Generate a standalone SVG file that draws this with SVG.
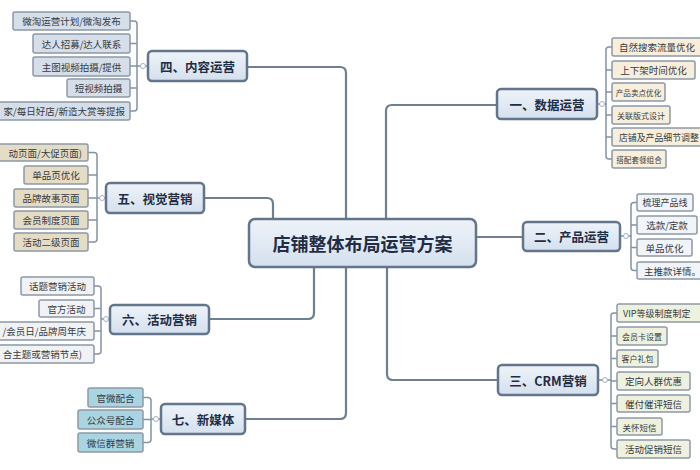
<svg xmlns="http://www.w3.org/2000/svg" width="700" height="470" viewBox="0 0 700 470">
<defs>
<linearGradient id="gNode" x1="0" y1="0" x2="0" y2="1">
<stop offset="0" stop-color="#eef3f9"/>
<stop offset="1" stop-color="#d4e0ee"/>
</linearGradient>
<style>
.main{fill:url(#gNode);stroke:#63758b;stroke-width:2.5}
.mt{font-family:"Noto Sans CJK SC","Liberation Sans",sans-serif;font-weight:bold;fill:#1f2d45;text-anchor:middle;dominant-baseline:central}
.leaf{stroke:#8d99a6;stroke-width:1.5}
.lt{font-family:"Noto Sans CJK SC","Liberation Sans",sans-serif;fill:#353a42;font-size:9.5px;dominant-baseline:central}
.c{text-anchor:middle}
.e{text-anchor:end}
.s{text-anchor:start}
.conn{fill:none;stroke:#6e7f92;stroke-width:2.2}
.br{fill:none;stroke:#8393a3;stroke-width:1.5}
.dot{fill:#fff;stroke:#a3b1bf;stroke-width:1}
.f4{fill:#d6dee9}.f5{fill:#e4dcc4}.f6{fill:#f1f2f3}.f7{fill:#a9d4e1}
.f1{fill:#f7efdb}.f2{fill:#f1f4f8}.f3{fill:#eef1dd}
</style>
</defs>
<rect width="700" height="470" fill="#ffffff"/>

<g id="connectors">
<path class="conn" d="M346 219 V73 Q346 67 340 67 H247"/>
<path class="conn" d="M386 219 V111 Q386 105 392 105 H497"/>
<path class="conn" d="M273 219 V204 Q273 198 267 198 H204"/>
<path class="conn" d="M476 237 H523"/>
<path class="conn" d="M314 267 V313 Q314 319 308 319 H209"/>
<path class="conn" d="M346 267 V413 Q346 419 340 419 H245"/>
<path class="conn" d="M387 267 V374 Q387 380 393 380 H498"/>
<path class="br" d="M130 21 H134 Q137 21 137 24 V108 Q137 111 134 111 H130 M137 43.5 H130 M137 66 H130 M137 88 H130 M137 66 H148"/>
<path class="br" d="M88 152.5 H94 Q97 152.5 97 155.5 V239 Q97 242 94 242 H88 M97 175 H88 M97 198 H88 M97 220 H88 M97 198 H106"/>
<path class="br" d="M94 286 H98 Q101 286 101 289 V351 Q101 354 98 354 H94 M101 308.5 H94 M101 331 H94 M101 319 H110"/>
<path class="br" d="M143 397.5 H148 Q151 397.5 151 400.5 V439.5 Q151 442.5 148 442.5 H143 M151 419.5 H143 M151 419 H161"/>
<path class="br" d="M612 47 H609 Q606 47 606 50 V156 Q606 159 609 159 H612 M606 70 H612 M606 92 H612 M606 115 H612 M606 137 H612 M606 104 H597"/>
<path class="br" d="M637 202.5 H634 Q631 202.5 631 205.5 V267.5 Q631 270.5 634 270.5 H637 M631 225 H637 M631 247.5 H637 M631 236 H620"/>
<path class="br" d="M617 313 H614 Q611 313 611 316 V446 Q611 449 614 449 H617 M611 336 H617 M611 358.5 H617 M611 381 H617 M611 403.5 H617 M611 426.5 H617 M611 380 H598"/>
<circle class="dot" cx="143" cy="66" r="2.5"/>
<circle class="dot" cx="102" cy="198" r="2.5"/>
<circle class="dot" cx="106" cy="319" r="2.5"/>
<circle class="dot" cx="156" cy="419" r="2.5"/>
<circle class="dot" cx="602" cy="104" r="2.5"/>
<circle class="dot" cx="626" cy="236" r="2.5"/>
<circle class="dot" cx="605" cy="380" r="2.5"/>
</g>

<g id="center">
<rect class="main" x="249" y="219" width="227" height="48" rx="6"/>
<text class="mt" x="362.5" y="243" font-size="18">店铺整体布局运营方案</text>
</g>

<g id="n4">
<rect class="main" x="148" y="51" width="99" height="30" rx="4"/>
<text class="mt" x="197.5" y="66" font-size="12.5">四、内容运营</text>
</g>
<g id="n4-leaves">
<rect class="leaf f4" x="13" y="12" width="117" height="18" rx="2"/>
<text class="lt c" x="71.5" y="21">微淘运营计划/微淘发布</text>
<rect class="leaf f4" x="33" y="34" width="97" height="19" rx="2"/>
<text class="lt c" x="81.5" y="43.5">达人招募/达人联系</text>
<rect class="leaf f4" x="33" y="57" width="97" height="19" rx="2"/>
<text class="lt c" x="81.5" y="66.5">主图视频拍摄/提供</text>
<rect class="leaf f4" x="67" y="79" width="63" height="18" rx="2"/>
<text class="lt c" x="98.5" y="88">短视频拍摄</text>
<rect class="leaf f4" x="-60" y="102" width="190" height="18" rx="2"/>
<text class="lt e" x="125" y="111">家/每日好店/新造大赏等提报</text>
</g>

<g id="n5">
<rect class="main" x="106" y="183" width="98" height="30" rx="4"/>
<text class="mt" x="155" y="198" font-size="12.5">五、视觉营销</text>
</g>
<g id="n5-leaves">
<rect class="leaf f5" x="-40" y="144" width="128" height="17" rx="2"/>
<text class="lt e" x="82" y="152.5">动页面/大促页面)</text>
<rect class="leaf f5" x="24" y="166" width="64" height="18" rx="2"/>
<text class="lt c" x="56" y="175">单品页优化</text>
<rect class="leaf f5" x="14" y="189" width="74" height="18" rx="2"/>
<text class="lt c" x="51" y="198">品牌故事页面</text>
<rect class="leaf f5" x="14" y="211" width="74" height="18" rx="2"/>
<text class="lt c" x="51" y="220">会员制度页面</text>
<rect class="leaf f5" x="14" y="233" width="74" height="18" rx="2"/>
<text class="lt c" x="51" y="242">活动二级页面</text>
</g>

<g id="n6">
<rect class="main" x="110" y="305" width="99" height="29" rx="4"/>
<text class="mt" x="159.5" y="319.5" font-size="12.5">六、活动营销</text>
</g>
<g id="n6-leaves">
<rect class="leaf f6" x="21" y="277" width="73" height="18" rx="2"/>
<text class="lt c" x="57.5" y="286">话题营销活动</text>
<rect class="leaf f6" x="39" y="300" width="55" height="17" rx="2"/>
<text class="lt c" x="66.5" y="308.5">官方活动</text>
<rect class="leaf f6" x="-40" y="322" width="134" height="18" rx="2"/>
<text class="lt e" x="86" y="331">/会员日/品牌周年庆</text>
<rect class="leaf f6" x="-40" y="345" width="134" height="18" rx="2"/>
<text class="lt e" x="82" y="354">合主题或营销节点)</text>
</g>

<g id="n7">
<rect class="main" x="161" y="404" width="84" height="30" rx="4"/>
<text class="mt" x="203" y="419" font-size="12.5">七、新媒体</text>
</g>
<g id="n7-leaves">
<rect class="leaf f7" x="88" y="388" width="55" height="19" rx="2"/>
<text class="lt c" x="115.5" y="397.5">官微配合</text>
<rect class="leaf f7" x="78" y="410" width="65" height="19" rx="2"/>
<text class="lt c" x="110.5" y="419.5">公众号配合</text>
<rect class="leaf f7" x="78" y="433" width="65" height="19" rx="2"/>
<text class="lt c" x="110.5" y="442.5">微信群营销</text>
</g>

<g id="n1">
<rect class="main" x="497" y="89" width="100" height="30" rx="4"/>
<text class="mt" x="547" y="104" font-size="12.5">一、数据运营</text>
</g>
<g id="n1-leaves">
<rect class="leaf f1" x="612" y="38" width="92" height="18" rx="2"/>
<text class="lt s" x="619" y="47">自然搜索流量优化</text>
<rect class="leaf f1" x="612" y="61" width="83" height="18" rx="2"/>
<text class="lt c" x="653.5" y="70">上下架时间优化</text>
<rect class="leaf f1" x="612" y="83" width="53" height="18" rx="2"/>
<text class="lt c" x="638.5" y="92" style="font-size:7.6px">产品卖点优化</text>
<rect class="leaf f1" x="612" y="106" width="58" height="18" rx="2"/>
<text class="lt c" x="641" y="115" style="font-size:8px">关联版式设计</text>
<rect class="leaf f1" x="612" y="128" width="100" height="18" rx="2"/>
<text class="lt s" x="619" y="137" style="font-size:8.9px">店铺及产品细节调整</text>
<rect class="leaf f1" x="612" y="150" width="54" height="18" rx="2"/>
<text class="lt c" x="639" y="159" style="font-size:7.6px">搭配套餐组合</text>
</g>

<g id="n2">
<rect class="main" x="523" y="222" width="97" height="29" rx="4"/>
<text class="mt" x="571.5" y="236.5" font-size="12.5">二、产品运营</text>
</g>
<g id="n2-leaves">
<rect class="leaf f2" x="637" y="194" width="56" height="17" rx="2"/>
<text class="lt c" x="665" y="202.5" style="font-size:9px">梳理产品线</text>
<rect class="leaf f2" x="637" y="216" width="60" height="18" rx="2"/>
<text class="lt c" x="667" y="225">选款/定款</text>
<rect class="leaf f2" x="637" y="239" width="55" height="17" rx="2"/>
<text class="lt c" x="664.5" y="247.5">单品优化</text>
<rect class="leaf f2" x="637" y="262" width="75" height="17" rx="2"/>
<text class="lt s" x="644" y="270.5">主推款详情。</text>
</g>

<g id="n3">
<rect class="main" x="498" y="365" width="100" height="30" rx="4"/>
<text class="mt" x="548" y="380" font-size="12.5">三、CRM营销</text>
</g>
<g id="n3-leaves">
<rect class="leaf f3" x="617" y="304" width="95" height="18" rx="2"/>
<text class="lt s" x="623" y="313" style="font-size:9px">VIP等级制度制定</text>
<rect class="leaf f3" x="617" y="327" width="50" height="18" rx="2"/>
<text class="lt c" x="642" y="336" style="font-size:8px">会员卡设置</text>
<rect class="leaf f3" x="617" y="350" width="41" height="17" rx="2"/>
<text class="lt c" x="637.5" y="358.5" style="font-size:8px">客户礼包</text>
<rect class="leaf f3" x="617" y="372" width="73" height="18" rx="2"/>
<text class="lt c" x="653.5" y="381">定向人群优惠</text>
<rect class="leaf f3" x="617" y="395" width="73" height="17" rx="2"/>
<text class="lt c" x="653.5" y="403.5">催付催评短信</text>
<rect class="leaf f3" x="617" y="418" width="45" height="17" rx="2"/>
<text class="lt c" x="639.5" y="426.5" style="font-size:8.5px">关怀短信</text>
<rect class="leaf f3" x="617" y="440" width="73" height="18" rx="2"/>
<text class="lt c" x="653.5" y="449">活动促销短信</text>
</g>
</svg>
